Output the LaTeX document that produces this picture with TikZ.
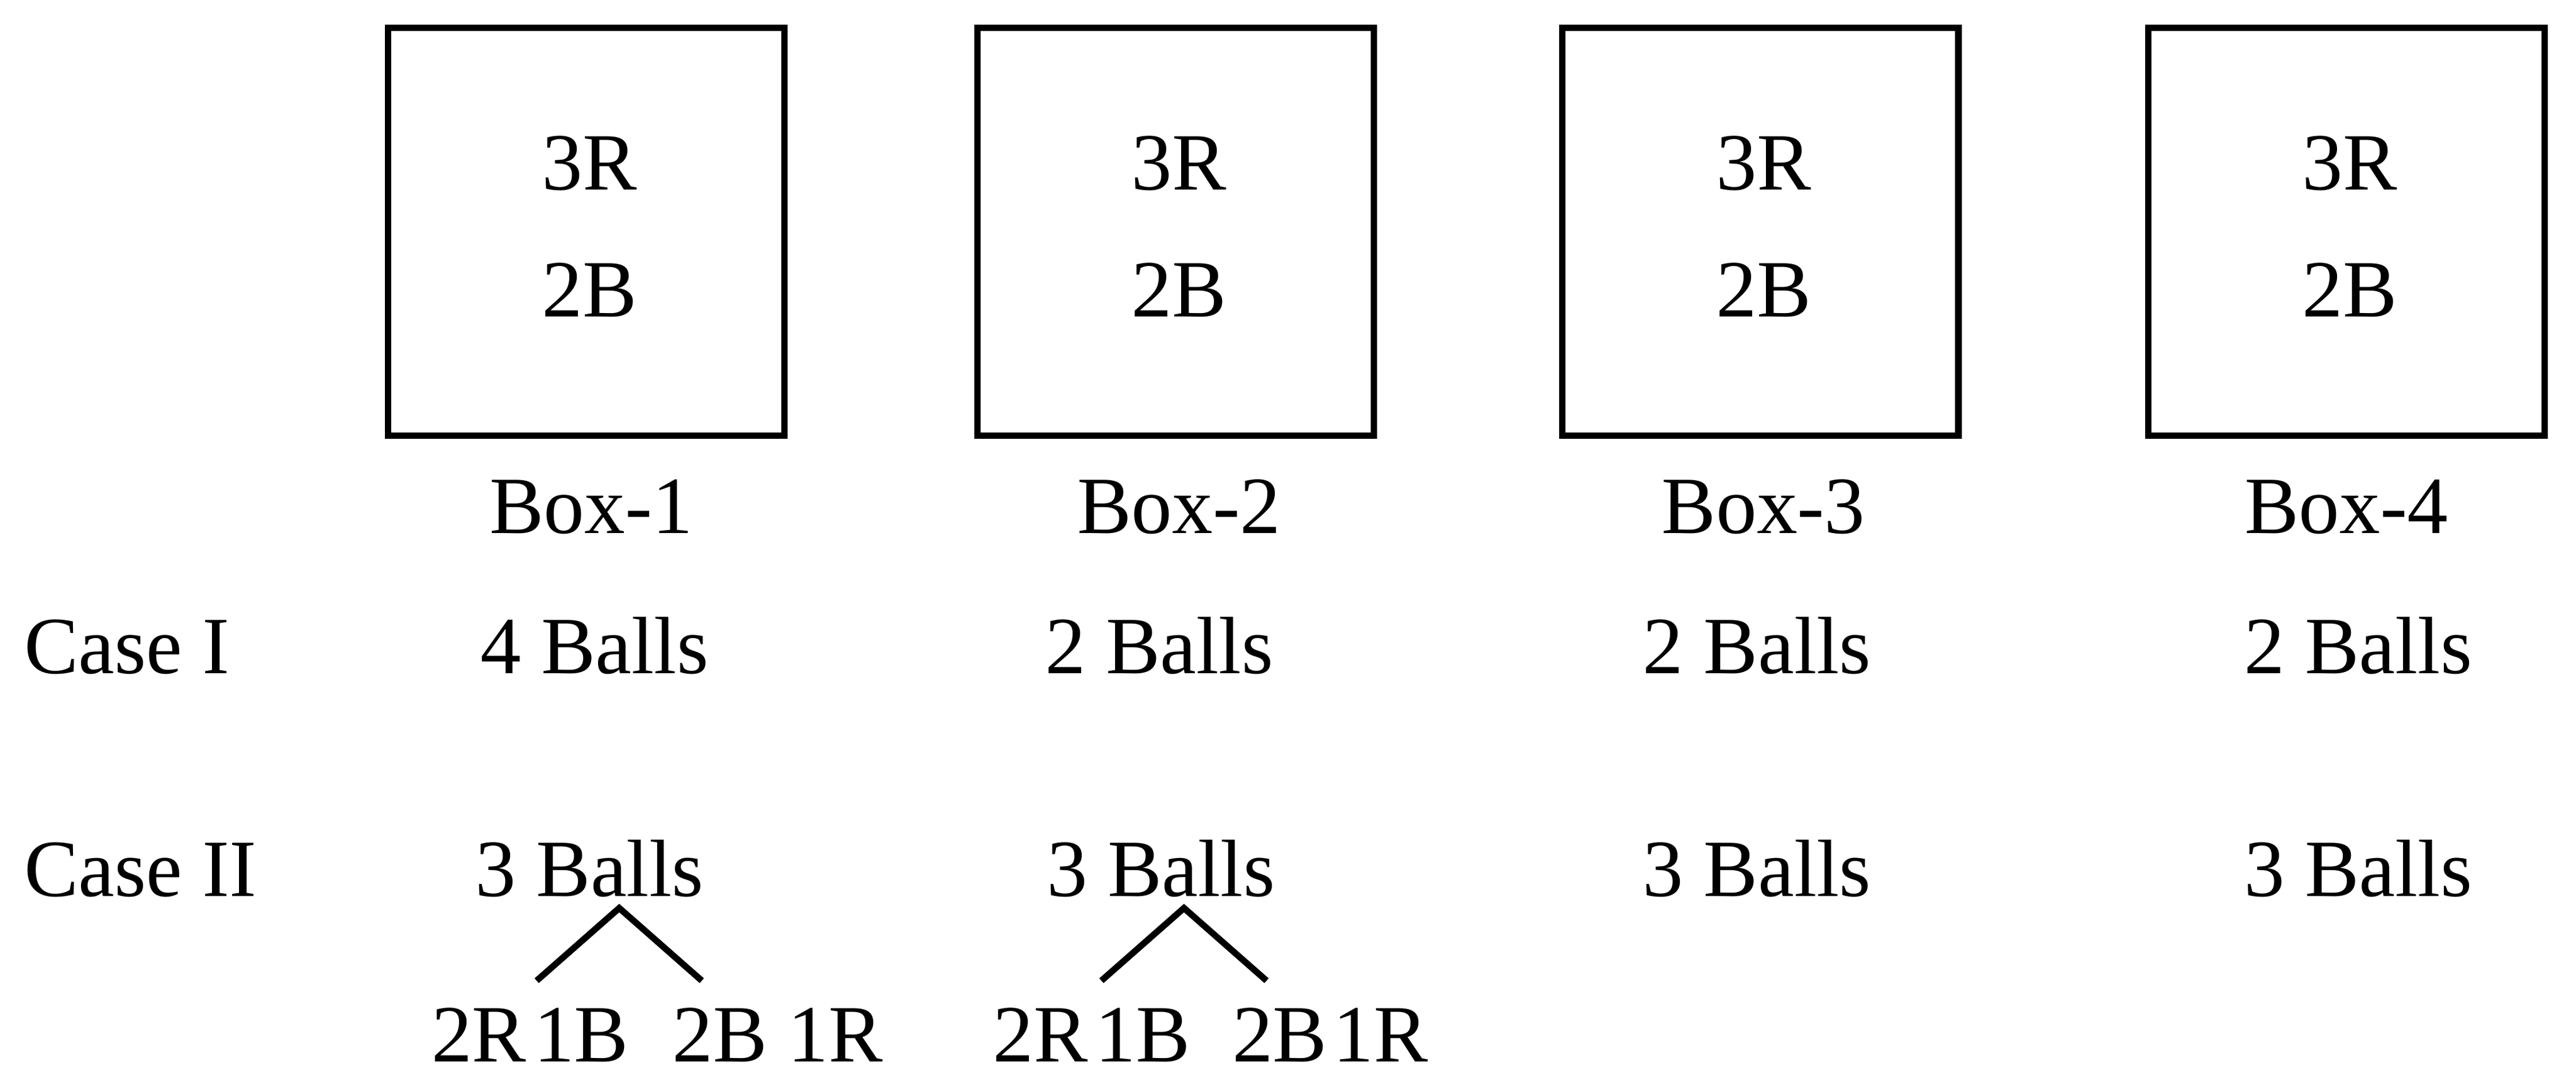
\documentclass[tikz,border=0pt]{standalone}
\usepackage{fontspec}
\setmainfont{Liberation Serif}
\begin{document}
\begin{tikzpicture}[x=0.01cm,y=-0.01cm,
  lbl/.style={font=\fontsize{14pt}{16pt}\selectfont, inner sep=0pt, anchor=base},
  boxs/.style={draw, line width=1.1pt},
  br/.style={line width=1.1pt}]
\useasboundingbox (0,0) rectangle (1560,657);
\foreach \i/\x in {1/235,2/592,3/946,4/1301}{
  \draw[boxs] (\x,17) rectangle ++(240,247);
  \node[lbl] (r\i) at (\x+122,115) {3R};
  \node[lbl] (b\i) at (\x+122,192) {2B};
}
\node[lbl] (bx1) at (358,323) {Box-1};
\node[lbl] (bx2) at (714,323) {Box-2};
\node[lbl] (bx3) at (1068,323) {Box-3};
\node[lbl] (bx4) at (1421,323) {Box-4};
\node[lbl,anchor=base west] (c1) at (14,408) {Case I};
\node[lbl,anchor=base west] (c2) at (14,543) {Case II};
\node[lbl] (a1) at (360,408) {4 Balls};
\node[lbl] (a2) at (702,408) {2 Balls};
\node[lbl] (a3) at (1064,408) {2 Balls};
\node[lbl] (a4) at (1428,408) {2 Balls};
\node[lbl] (d1) at (357,543) {3 Balls};
\node[lbl] (d2) at (703,543) {3 Balls};
\node[lbl] (d3) at (1064,543) {3 Balls};
\node[lbl] (d4) at (1428,543) {3 Balls};
\coordinate (p1) at (375,550);
\coordinate (p2) at (717,550);
\coordinate (l1) at (325,594);
\coordinate (m1) at (425,594);
\coordinate (l2) at (667,594);
\coordinate (m2) at (767,594);
\draw[br] (l1) -- (p1) -- (m1);
\draw[br] (l2) -- (p2) -- (m2);
\node[lbl] (e1) at (290,643) {2R};
\node[lbl] (e2) at (352,643) {1B};
\node[lbl] (e3) at (436,643) {2B};
\node[lbl] (e4) at (506,643) {1R};
\node[lbl] (f1) at (630,643) {2R};
\node[lbl] (f2) at (692,643) {1B};
\node[lbl] (f3) at (775,643) {2B};
\node[lbl] (f4) at (836,643) {1R};
\end{tikzpicture}
\end{document}
